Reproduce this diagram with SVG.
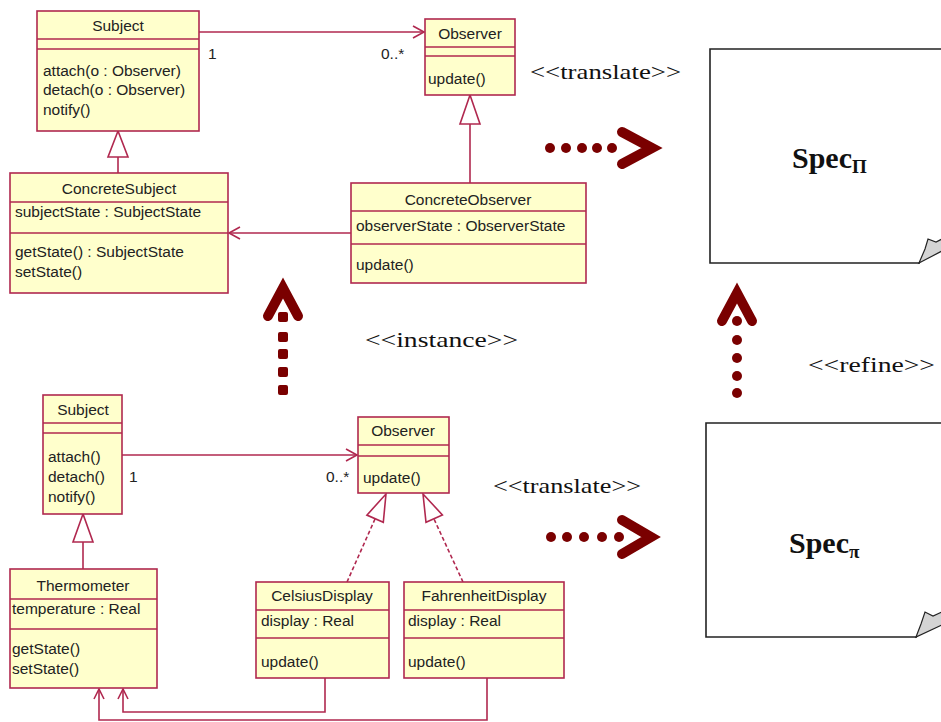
<svg xmlns="http://www.w3.org/2000/svg" width="941" height="722" viewBox="0 0 941 722">
<style>
.box{fill:#FFFFCC;stroke:#B0284F;stroke-width:1.6}
.sep{stroke:#B0284F;stroke-width:1.4}
.ln{fill:none;stroke:#B0284F;stroke-width:1.6}
.dash{fill:none;stroke:#B0284F;stroke-width:1.6;stroke-dasharray:4 2.5}
.tri{fill:#FFFFFF;stroke:#B0284F;stroke-width:1.6}
.t{font-family:"Liberation Sans",Arial,sans-serif;font-size:15.5px;fill:#222}
.c{text-anchor:middle}
.st{font-family:"Liberation Serif","Times New Roman",serif;font-size:22px;fill:#111}
.spec{font-family:"Liberation Serif","Times New Roman",serif;font-size:30px;font-weight:bold;fill:#111}
.sub{font-size:19px}
.chev{fill:none;stroke:#7A0000;stroke-width:10;stroke-linejoin:miter;stroke-linecap:round}
.dot{fill:#7A0000}
.doc{fill:#FFFFFF;stroke:#222;stroke-width:1.6}
.fold{fill:#D4D4D4;stroke:#222;stroke-width:1.2}
</style>

<g id="connectors">
  <!-- top association Subject -> Observer -->
  <line class="ln" x1="199" y1="32" x2="424" y2="32"/>
  <polyline class="ln" points="413,26 424,32 413,38"/>
  <text class="t" x="208" y="59">1</text>
  <text class="t" x="381" y="59">0..*</text>
  <!-- generalization ConcreteSubject -> Subject -->
  <line class="ln" x1="118" y1="157" x2="118" y2="173"/>
  <polygon class="tri" points="118,131 108,157 128,157"/>
  <!-- generalization ConcreteObserver -> Observer -->
  <line class="ln" x1="470" y1="124" x2="470" y2="183"/>
  <polygon class="tri" points="470,95 460,124 480,124"/>
  <!-- association ConcreteObserver -> ConcreteSubject -->
  <line class="ln" x1="351" y1="233" x2="229" y2="233"/>
  <polyline class="ln" points="240,227 229,233 240,239"/>

  <!-- bottom association Subject -> Observer -->
  <line class="ln" x1="122" y1="455" x2="357" y2="455"/>
  <polyline class="ln" points="346,449 357,455 346,461"/>
  <text class="t" x="129" y="482">1</text>
  <text class="t" x="326" y="482">0..*</text>
  <!-- generalization Thermometer -> Subject -->
  <line class="ln" x1="83" y1="542" x2="83" y2="569"/>
  <polygon class="tri" points="83,514 73,542 93,542"/>
  <!-- realization CelsiusDisplay -> Observer -->
  <line class="dash" x1="347" y1="582" x2="375" y2="519"/>
  <polygon class="tri" points="386,494 383.3,522.3 366.9,515.1"/>
  <!-- realization FahrenheitDisplay -> Observer -->
  <line class="dash" x1="463" y1="582" x2="434" y2="519"/>
  <polygon class="tri" points="423,494 442.4,514.9 426,522.3"/>
  <!-- navigation CelsiusDisplay -> Thermometer -->
  <polyline class="ln" points="325,678 325,712 123,712 123,689"/>
  <polyline class="ln" points="118,699 123,689 128,699"/>
  <!-- navigation FahrenheitDisplay -> Thermometer -->
  <polyline class="ln" points="487,678 487,720 99,720 99,689"/>
  <polyline class="ln" points="94,699 99,689 104,699"/>

  <!-- <<translate>> top -->
  <g id="translate-top">
    <circle class="dot" cx="550" cy="148" r="5"/>
    <circle class="dot" cx="566" cy="148" r="5"/>
    <circle class="dot" cx="582" cy="148" r="5"/>
    <circle class="dot" cx="597" cy="148" r="5"/>
    <circle class="dot" cx="612" cy="148" r="5"/>
    <polyline class="chev" points="622,132 652,148 622,164"/>
  </g>
  <!-- <<translate>> bottom -->
  <g id="translate-bottom">
    <circle class="dot" cx="551" cy="537" r="5"/>
    <circle class="dot" cx="567" cy="537" r="5"/>
    <circle class="dot" cx="584" cy="537" r="5"/>
    <circle class="dot" cx="602" cy="537" r="5"/>
    <circle class="dot" cx="619" cy="537" r="5"/>
    <polyline class="chev" points="622,520 651,537 622,554"/>
  </g>
  <!-- <<instance>> -->
  <g id="instance-arrow">
    <polyline class="chev" points="268,316 283,288 298,316"/>
    <rect class="dot" x="278" y="312" width="10" height="10" rx="2"/>
    <rect class="dot" x="278" y="332" width="10" height="10" rx="2"/>
    <rect class="dot" x="278" y="349" width="10" height="10" rx="2"/>
    <rect class="dot" x="278" y="367" width="10" height="10" rx="2"/>
    <rect class="dot" x="278" y="385" width="10" height="10" rx="2"/>
  </g>
  <!-- <<refine>> -->
  <g id="refine-arrow">
    <polyline class="chev" points="722,321 737,293 752,321"/>
    <circle class="dot" cx="737" cy="321" r="5"/>
    <circle class="dot" cx="737" cy="340" r="5"/>
    <circle class="dot" cx="737" cy="358" r="5"/>
    <circle class="dot" cx="737" cy="376" r="5"/>
    <circle class="dot" cx="737" cy="393" r="5"/>
  </g>
</g>

<text class="st" x="530" y="79" textLength="151" lengthAdjust="spacingAndGlyphs">&lt;&lt;translate&gt;&gt;</text>
<text class="st" x="365" y="347" textLength="153" lengthAdjust="spacingAndGlyphs">&lt;&lt;instance&gt;&gt;</text>
<text class="st" x="808" y="372" textLength="127" lengthAdjust="spacingAndGlyphs">&lt;&lt;refine&gt;&gt;</text>
<text class="st" x="493" y="493" textLength="148" lengthAdjust="spacingAndGlyphs">&lt;&lt;translate&gt;&gt;</text>

<g id="Subject-top">
  <rect class="box" x="37" y="11" width="162" height="120"/>
  <line class="sep" x1="37" y1="39" x2="199" y2="39"/>
  <line class="sep" x1="37" y1="49" x2="199" y2="49"/>
  <text class="t c" x="118" y="31">Subject</text>
  <text class="t" x="43" y="76">attach(o : Observer)</text>
  <text class="t" x="43" y="95">detach(o : Observer)</text>
  <text class="t" x="43" y="115">notify()</text>
</g>

<g id="Observer-top">
  <rect class="box" x="425" y="19" width="90" height="76"/>
  <line class="sep" x1="425" y1="47" x2="515" y2="47"/>
  <line class="sep" x1="425" y1="56" x2="515" y2="56"/>
  <text class="t c" x="470" y="39">Observer</text>
  <text class="t" x="428" y="84">update()</text>
</g>

<g id="ConcreteSubject">
  <rect class="box" x="10" y="173" width="218" height="120"/>
  <line class="sep" x1="10" y1="202" x2="228" y2="202"/>
  <line class="sep" x1="10" y1="233" x2="228" y2="233"/>
  <text class="t c" x="119" y="194">ConcreteSubject</text>
  <text class="t" x="15" y="217">subjectState : SubjectState</text>
  <text class="t" x="15" y="257">getState() : SubjectState</text>
  <text class="t" x="15" y="277">setState()</text>
</g>

<g id="ConcreteObserver">
  <rect class="box" x="351" y="183" width="235" height="100"/>
  <line class="sep" x1="351" y1="211" x2="586" y2="211"/>
  <line class="sep" x1="351" y1="244" x2="586" y2="244"/>
  <text class="t c" x="468" y="205">ConcreteObserver</text>
  <text class="t" x="356" y="231">observerState : ObserverState</text>
  <text class="t" x="356" y="270">update()</text>
</g>

<g id="SpecPi-upper">
  <path class="doc" d="M942,49 H710 V263 H920"/>
  <polygon class="fold" points="919,263 925,249 928,239 936,242 942,239 942,251"/>
  <text class="spec" x="792" y="168">Spec<tspan class="sub" dy="5">Π</tspan></text>
</g>

<g id="Specpi-lower">
  <path class="doc" d="M942,423 H706 V637 H917"/>
  <polygon class="fold" points="916,637 921,624 925,612 933,616 942,612 942,625"/>
  <text class="spec" x="789" y="553">Spec<tspan class="sub" dy="5">π</tspan></text>
</g>

<g id="Subject-bottom">
  <rect class="box" x="43" y="395" width="79" height="119"/>
  <line class="sep" x1="43" y1="423" x2="122" y2="423"/>
  <line class="sep" x1="43" y1="433" x2="122" y2="433"/>
  <text class="t c" x="83" y="415">Subject</text>
  <text class="t" x="48" y="462">attach()</text>
  <text class="t" x="48" y="482">detach()</text>
  <text class="t" x="48" y="502">notify()</text>
</g>

<g id="Observer-bottom">
  <rect class="box" x="358" y="417" width="91" height="76"/>
  <line class="sep" x1="358" y1="445" x2="449" y2="445"/>
  <line class="sep" x1="358" y1="456" x2="449" y2="456"/>
  <text class="t c" x="403" y="436">Observer</text>
  <text class="t" x="363" y="483">update()</text>
</g>

<g id="Thermometer">
  <rect class="box" x="10" y="569" width="147" height="119"/>
  <line class="sep" x1="10" y1="599" x2="157" y2="599"/>
  <line class="sep" x1="10" y1="629" x2="157" y2="629"/>
  <text class="t c" x="83" y="591">Thermometer</text>
  <text class="t" x="12" y="614">temperature : Real</text>
  <text class="t" x="12" y="654">getState()</text>
  <text class="t" x="12" y="674">setState()</text>
</g>

<g id="CelsiusDisplay">
  <rect class="box" x="256" y="582" width="133" height="96"/>
  <line class="sep" x1="256" y1="610" x2="389" y2="610"/>
  <line class="sep" x1="256" y1="638" x2="389" y2="638"/>
  <text class="t c" x="322" y="601">CelsiusDisplay</text>
  <text class="t" x="261" y="626">display : Real</text>
  <text class="t" x="261" y="667">update()</text>
</g>

<g id="FahrenheitDisplay">
  <rect class="box" x="404" y="582" width="160" height="96"/>
  <line class="sep" x1="404" y1="610" x2="564" y2="610"/>
  <line class="sep" x1="404" y1="638" x2="564" y2="638"/>
  <text class="t c" x="484" y="601">FahrenheitDisplay</text>
  <text class="t" x="408" y="626">display : Real</text>
  <text class="t" x="408" y="667">update()</text>
</g>
</svg>
